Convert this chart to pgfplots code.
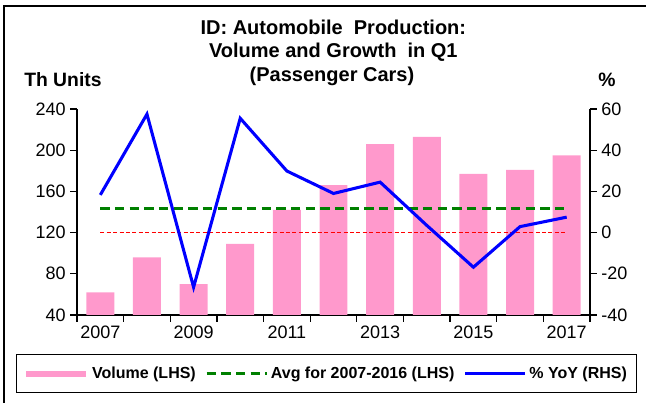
\documentclass[border=0pt]{standalone}
\usepackage{pgfplots}
\pgfplotsset{compat=1.18}
\usepackage{fontspec}
\setmainfont{Liberation Sans}
\definecolor{barpink}{RGB}{255,153,204}
\definecolor{avggreen}{RGB}{0,128,0}
\definecolor{yoyblue}{RGB}{0,0,255}
\definecolor{zeroRed}{RGB}{255,0,0}

\pgfplotsset{
  common/.style={
    at={(57.75pt,66pt)}, anchor=south west,
    scale only axis, width=384.75pt, height=154.5pt,
    xmin=-0.5, xmax=10.5,
    tick align=outside,
    major tick length=5pt,
    axis line style={line width=0.9pt, black},
    every tick/.style={black, line width=0.9pt},
    tick label style={font=\fontsize{13.5}{14}\selectfont},
  }
}

\begin{document}
\begin{tikzpicture}
\useasboundingbox (0,0) rectangle (484.5pt,302.25pt);
\draw[line width=1.1pt] (3pt,-2pt) -- (3pt,297.75pt) -- (486pt,297.75pt);

\node[anchor=base, font=\bfseries\fontsize{15}{16}\selectfont] at (250pt,276pt) {ID: Automobile\ \ Production:};
\node[anchor=base, font=\bfseries\fontsize{15}{16}\selectfont] at (250pt,258.75pt) {Volume and Growth\ \ in Q1};
\node[anchor=base, font=\bfseries\fontsize{15}{16}\selectfont] at (249pt,240.75pt) {(Passenger Cars)};
\node[anchor=base west, inner sep=0pt, font=\bfseries\fontsize{14.5}{16}\selectfont] at (18pt,237pt) {Th Units};
\node[anchor=base west, inner sep=0pt, font=\bfseries\fontsize{14.5}{16}\selectfont] at (448.5pt,237pt) {\%};

\begin{axis}[common,
  ymin=40, ymax=240,
  axis x line*=bottom, axis y line*=left,
  xtick={-0.5,0.5,1.5,2.5,3.5,4.5,5.5,6.5,7.5,8.5,9.5,10.5},
  xticklabels={},
  extra x ticks={0,2,4,6,8,10},
  extra x tick labels={2007,2009,2011,2013,2015,2017},
  extra x tick style={major tick length=0pt, xticklabel style={yshift=-5pt}},
  ytick={40,80,120,160,200,240},
  yticklabels={40,80,120,160,200,240},
]
\addplot[ybar, bar width=0.6, fill=barpink, draw=none] coordinates {
  (0,62) (1,96) (2,70) (3,109) (4,142) (5,166) (6,206) (7,213) (8,177) (9,181) (10,195)
};
\addplot[zeroRed, line width=0.8pt, dash pattern=on 3pt off 1.8pt] coordinates {(0,120) (10,120)};
\addplot[avggreen, line width=2.3pt, dash pattern=on 7pt off 4pt] coordinates {(0,143) (10,143)};
\end{axis}

\begin{axis}[common,
  ymin=-40, ymax=60,
  axis x line=none, axis y line*=right,
  ytick={-40,-20,0,20,40,60},
  yticklabels={-40,-20,0,20,40,60},
  legend columns=3,
  legend style={at={(0.4864,-0.284)}, anchor=center, draw=black, line width=1pt,
    font=\bfseries\fontsize{12}{13}\selectfont,
    inner xsep=5pt, inner ysep=7pt,
    /tikz/every even column/.append style={column sep=5pt}},
  legend image code/.code={\draw[#1] (0pt,0pt) -- (45pt,0pt);},
]
\addlegendimage{barpink, line width=4.5pt}
\addlegendentry{Volume (LHS)}
\addlegendimage{avggreen, line width=2.3pt, dash pattern=on 7pt off 4pt}
\addlegendentry{Avg for 2007-2016 (LHS)}
\addplot[yoyblue, line width=2.3pt] coordinates {
  (0,18.3) (1,57.5) (2,-26.5) (3,55.5) (4,29.9) (5,19.0) (6,24.5) (7,3.5) (8,-16.8) (9,2.9) (10,7.5)
};
\addlegendentry{\% YoY (RHS)}
\end{axis}
\end{tikzpicture}
\end{document}
